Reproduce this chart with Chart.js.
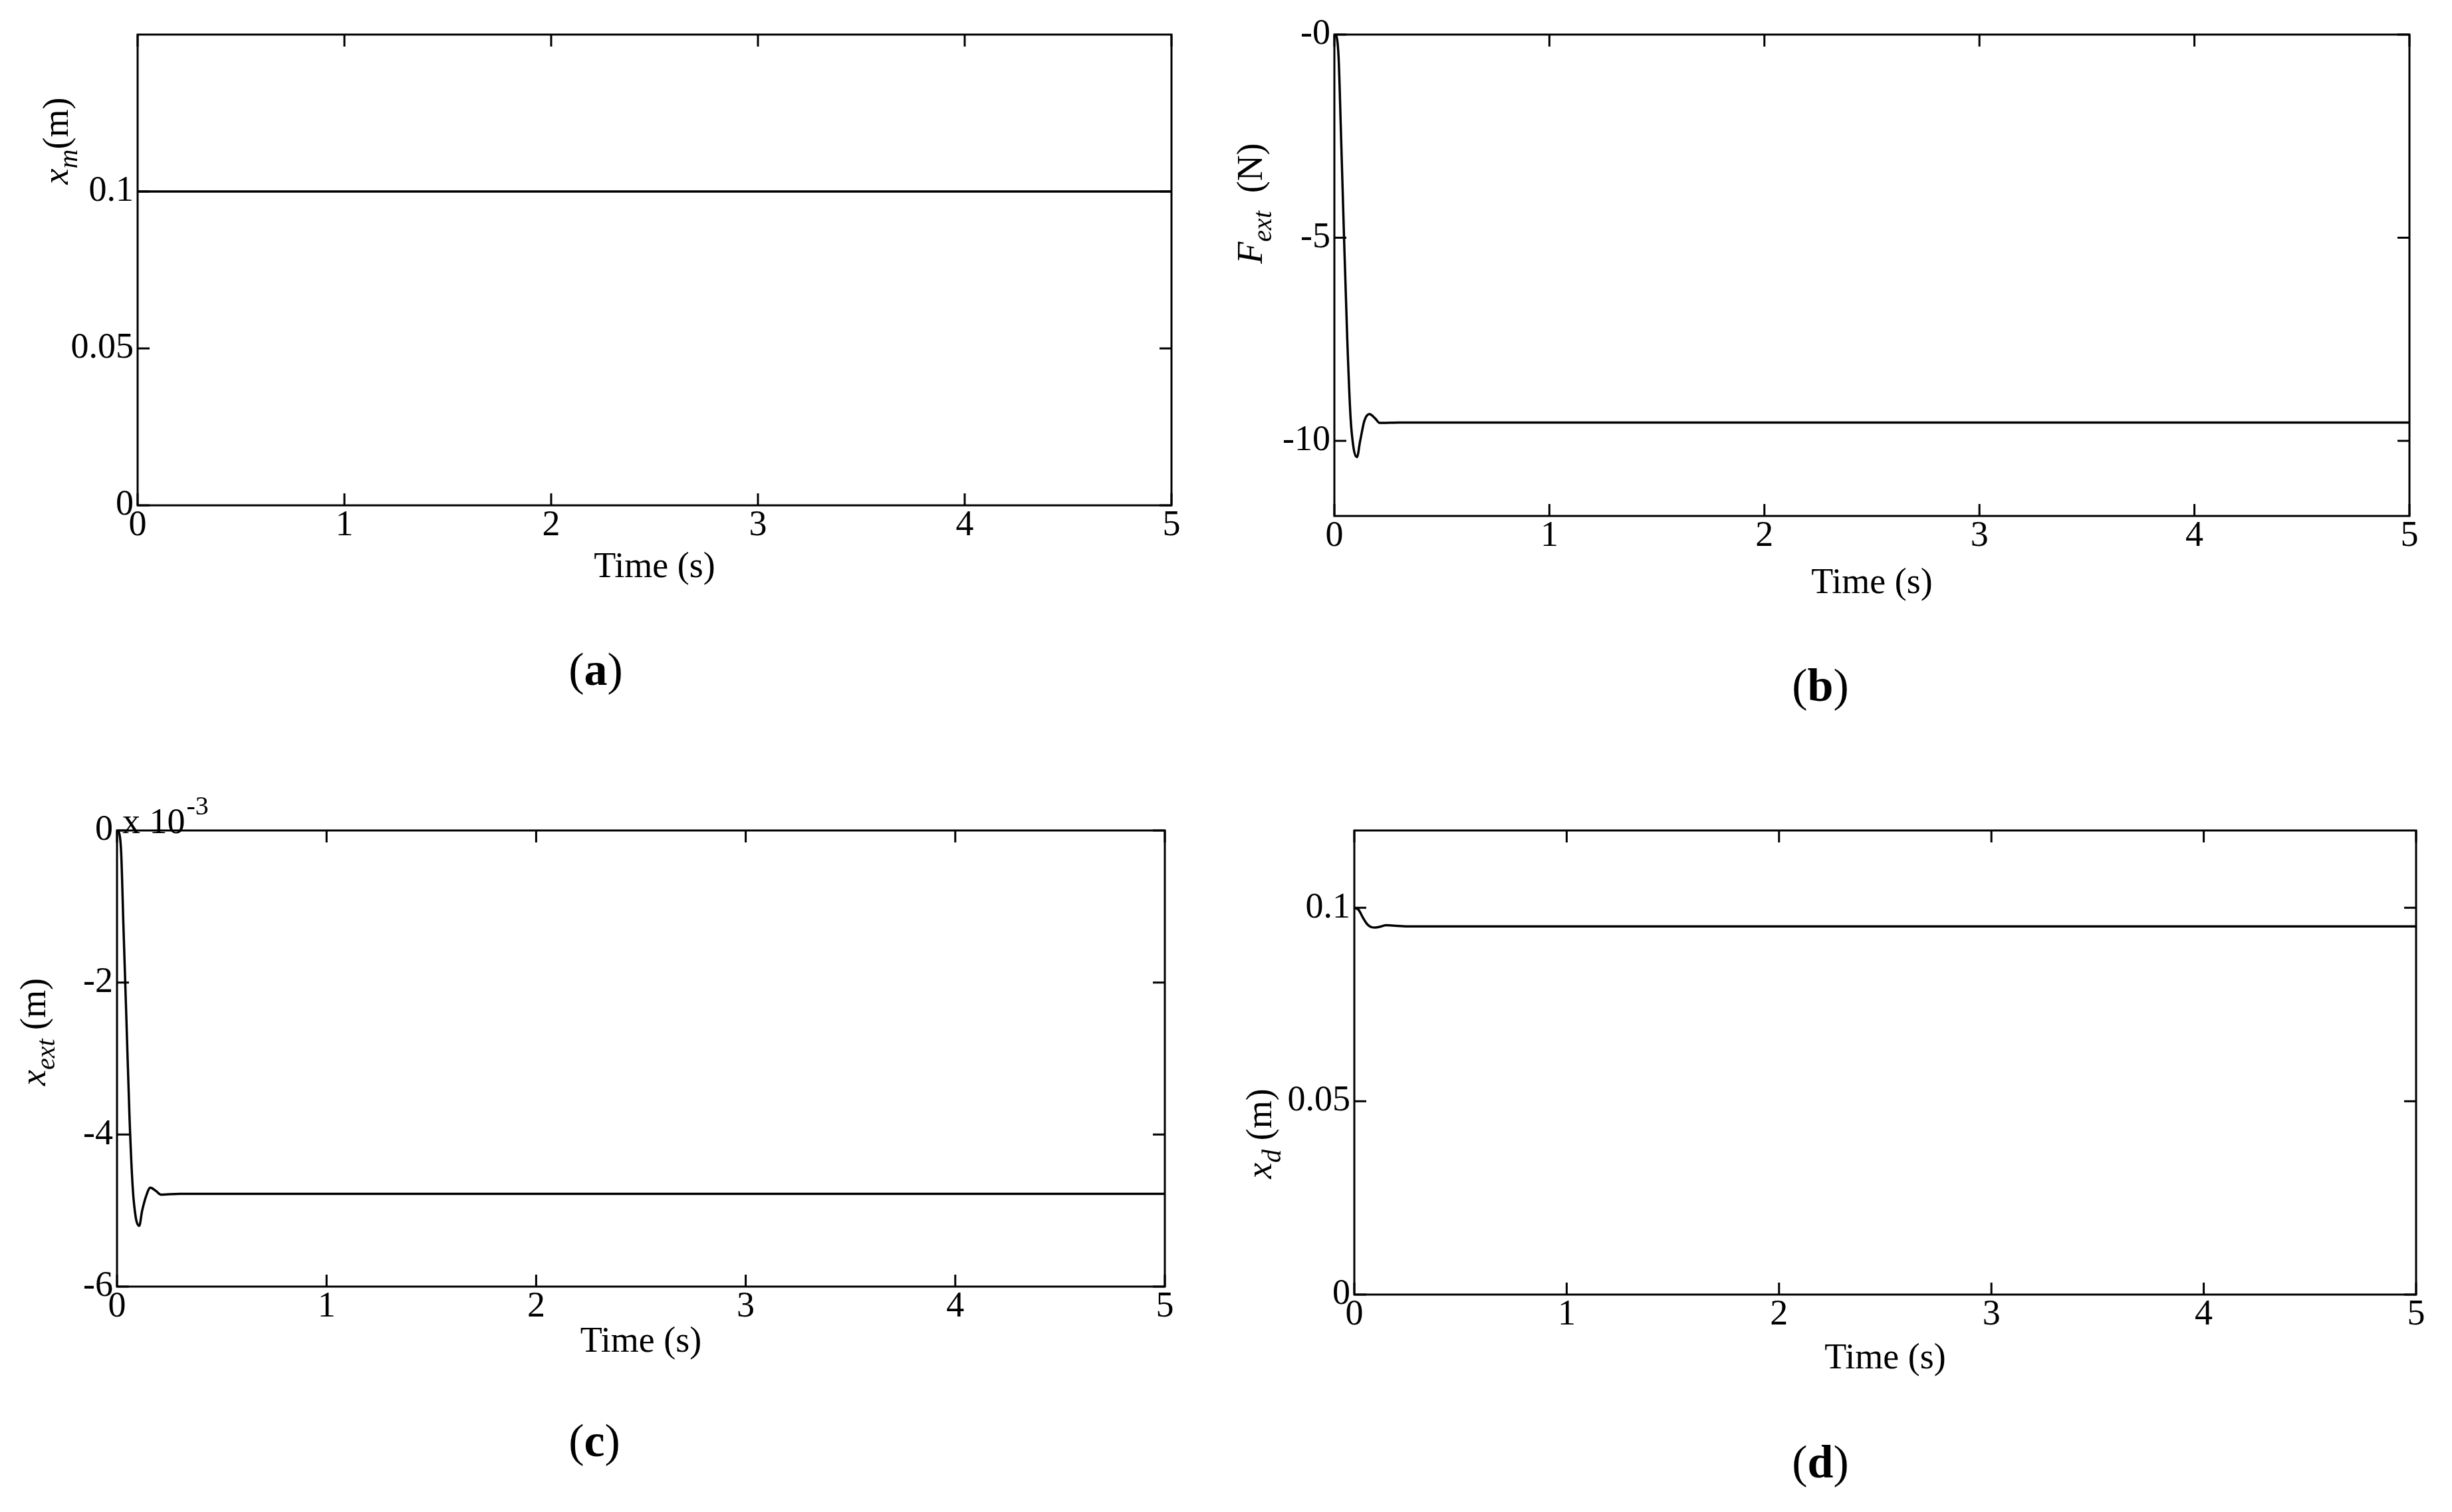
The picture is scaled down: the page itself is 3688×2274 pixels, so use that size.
<!DOCTYPE html>
<html>
<head>
<meta charset="utf-8">
<script src="https://cdn.jsdelivr.net/npm/chart.js@4.4.0/dist/chart.umd.min.js"></script>
<style>
  html, body { margin: 0; padding: 0; background: #fff; }
  canvas { position: absolute; left: 0; top: 0; }
</style>
</head>
<body>
<canvas id="ca"></canvas>
<canvas id="cb"></canvas>
<canvas id="cc"></canvas>
<canvas id="cd"></canvas>
<script>
// Values
const tA = [0, 5];
const xm = [0.1, 0.1];

const tB = [0, 0.01, 0.02, 0.03, 0.045, 0.06, 0.075, 0.09, 0.105, 0.12, 0.14, 0.163, 0.19, 0.21, 0.3, 1, 5];
const Fext = [0, -0.05, -0.6, -2.3, -5, -7.5, -9.4, -10.2, -10.4, -10.0, -9.5, -9.34, -9.45, -9.56, -9.55, -9.55, -9.55];

const tC = [0, 0.01, 0.02, 0.03, 0.045, 0.06, 0.075, 0.09, 0.106, 0.12, 0.14, 0.159, 0.185, 0.21, 0.3, 1, 5];
const xext = [0, -0.03, -0.3, -1.2, -2.5, -3.8, -4.7, -5.1, -5.2, -5.0, -4.8, -4.70, -4.74, -4.79, -4.78, -4.78, -4.78]; // x 10^-3

const tD = [0, 0.02, 0.04, 0.06, 0.08, 0.1, 0.12, 0.15, 0.18, 0.25, 1, 5];
const xd = [0.1, 0.0995, 0.0975, 0.0958, 0.0950, 0.0949, 0.0951, 0.0955, 0.0954, 0.0952, 0.0952, 0.0952];

const xTicks = [0, 1, 2, 3, 4, 5];
const xTickLabels = ['0', '1', '2', '3', '4', '5'];

const W = 3688, H = 2274;
const SERIF = '"Liberation Serif", "DejaVu Serif", serif';

function drawRich(ctx, parts, x, y, rotate) {
  // parts: [text, size, style, dy]
  ctx.save();
  ctx.translate(x, y);
  if (rotate) ctx.rotate(-Math.PI / 2);
  const fontOf = p => (p[2] ? p[2] + ' ' : '') + p[1] + 'px ' + SERIF;
  let total = 0;
  parts.forEach(p => { ctx.font = fontOf(p); total += ctx.measureText(p[0]).width; });
  let cx = -total / 2;
  ctx.fillStyle = '#000';
  ctx.textBaseline = 'alphabetic';
  ctx.textAlign = 'left';
  parts.forEach(p => {
    ctx.font = fontOf(p);
    ctx.fillText(p[0], cx, p[3] || 0);
    cx += ctx.measureText(p[0]).width;
  });
  ctx.restore();
}

function makePanel(id, cfg) {
  const el = document.getElementById(id);
  el.width = W; el.height = H;
  el.style.width = W + 'px'; el.style.height = H + 'px';

  const frame = {
    id: 'frame',
    afterDraw(chart) {
      const c = chart.ctx, a = chart.chartArea;
      const xs = chart.scales.x, ys = chart.scales.y;
      c.save();
      c.strokeStyle = '#000';
      c.lineWidth = 3;
      c.strokeRect(a.left, a.top, a.right - a.left, a.bottom - a.top);
      const tl = 18;
      c.beginPath();
      xTicks.forEach(v => {
        const px = xs.getPixelForValue(v);
        c.moveTo(px, a.bottom); c.lineTo(px, a.bottom - tl);
        c.moveTo(px, a.top); c.lineTo(px, a.top + tl);
      });
      cfg.yTicks.forEach(v => {
        const py = ys.getPixelForValue(v);
        c.moveTo(a.left, py); c.lineTo(a.left + tl, py);
        c.moveTo(a.right, py); c.lineTo(a.right - tl, py);
      });
      c.stroke();
      // tick labels
      c.fillStyle = '#000';
      c.font = '54px ' + SERIF;
      c.textAlign = 'center'; c.textBaseline = 'top';
      xTicks.forEach((v, i) => c.fillText(xTickLabels[i], xs.getPixelForValue(v), a.bottom + 4));
      c.textAlign = 'right'; c.textBaseline = 'middle';
      cfg.yTicks.forEach((v, i) => c.fillText(cfg.yLabels[i], a.left - 6, ys.getPixelForValue(v)));
      c.restore();
      drawRich(c, [['Time (s)', 54]], (a.left + a.right) / 2, cfg.timeY, false);
      drawRich(c, [['(', 70], [cfg.letter, 70, 'bold'], [')', 70]], cfg.letterX, cfg.letterY, false);
      drawRich(c, cfg.ylabel, cfg.ylabelX, cfg.ylabelY, true);
      if (cfg.extra) cfg.extra(c, a);
    }
  };

  new Chart(el, {
    type: 'line',
    data: {
      datasets: [{
        data: cfg.t.map((t, i) => ({ x: t, y: cfg.v[i] })),
        borderColor: '#000',
        borderWidth: 3.5,
        pointRadius: 0,
        cubicInterpolationMode: 'monotone',
        fill: false
      }]
    },
    options: {
      responsive: false,
      animation: false,
      devicePixelRatio: 1,
      layout: { padding: { left: cfg.area[0], top: cfg.area[1], right: W - cfg.area[2], bottom: H - cfg.area[3] } },
      plugins: { legend: { display: false }, tooltip: { enabled: false } },
      scales: {
        x: {
          type: 'linear', min: 0, max: 5,
          afterFit: s => { s.height = 0; },
          grid: { display: false }, border: { display: false },
          ticks: { display: false }
        },
        y: {
          type: 'linear', min: cfg.yMin, max: cfg.yMax,
          afterFit: s => { s.width = 0; },
          grid: { display: false }, border: { display: false },
          ticks: { display: false }
        }
      }
    },
    plugins: [frame]
  });
}

makePanel('ca', {
  t: tA, v: xm, area: [207, 52, 1762, 760], yMin: 0, yMax: 0.15,
  yTicks: [0, 0.05, 0.1], yLabels: ['0', '0.05', '0.1'],
  timeY: 868, letter: 'a', letterX: 896, letterY: 1030,
  ylabel: [['x', 54, 'italic'], ['m', 40, 'italic', 14], ['(m)', 54]], ylabelX: 102, ylabelY: 212
});
makePanel('cb', {
  t: tB, v: Fext, area: [2007, 52, 3624, 776], yMin: -11.85, yMax: 0,
  yTicks: [-10, -5, 0], yLabels: ['-10', '-5', '-0'],
  timeY: 892, letter: 'b', letterX: 2738, letterY: 1054,
  ylabel: [['F', 54, 'italic'], ['ext', 40, 'italic', 14], ['  (N)', 54]], ylabelX: 1898, ylabelY: 306
});
makePanel('cc', {
  t: tC, v: xext, area: [176, 1249, 1752, 1935], yMin: -6, yMax: 0,
  yTicks: [-6, -4, -2, 0], yLabels: ['-6', '-4', '-2', '0'],
  timeY: 2033, letter: 'c', letterX: 894, letterY: 2190,
  ylabel: [['x', 54, 'italic'], ['ext', 40, 'italic', 14], [' (m)', 54]], ylabelX: 68, ylabelY: 1552,
  extra: (c, a) => {
    c.save();
    c.fillStyle = '#000';
    c.textAlign = 'left'; c.textBaseline = 'alphabetic';
    c.font = '54px ' + SERIF;
    const w = c.measureText('x 10').width;
    c.fillText('x 10', a.left + 8, a.top + 4);
    c.font = '40px ' + SERIF;
    c.fillText('-3', a.left + 8 + w + 2, a.top - 24);
    c.restore();
  }
});
makePanel('cd', {
  t: tD, v: xd, area: [2037, 1249, 3634, 1947], yMin: 0, yMax: 0.12,
  yTicks: [0, 0.05, 0.1], yLabels: ['0', '0.05', '0.1'],
  timeY: 2058, letter: 'd', letterX: 2738, letterY: 2222,
  ylabel: [['x', 54, 'italic'], ['d', 40, 'italic', 14], [' (m)', 54]], ylabelX: 1912, ylabelY: 1705
});
</script>
</body>
</html>
